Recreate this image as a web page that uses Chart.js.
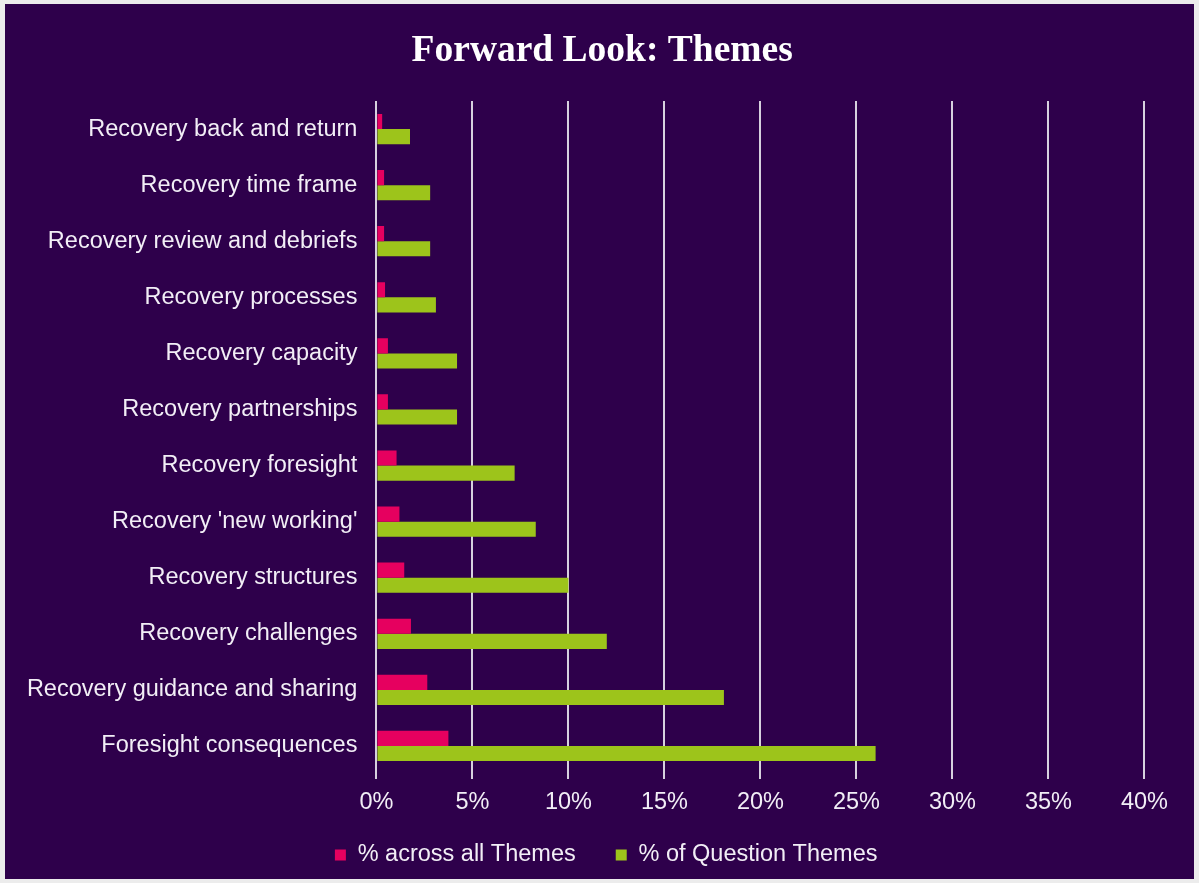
<!DOCTYPE html>
<html>
<head>
<meta charset="utf-8">
<title>Forward Look: Themes</title>
<script src="https://cdn.jsdelivr.net/npm/chart.js@4/dist/chart.umd.min.js"></script>
<style>
  html, body { margin: 0; padding: 0; background: #ececec; }
  #chart { display: block; }
</style>
</head>
<body>
<canvas id="chart" width="1199" height="883"></canvas>
<script>
// Themes, top to bottom
const categories = [
  'Recovery back and return',
  'Recovery time frame',
  'Recovery review and debriefs',
  'Recovery processes',
  'Recovery capacity',
  'Recovery partnerships',
  'Recovery foresight',
  "Recovery 'new working'",
  'Recovery structures',
  'Recovery challenges',
  'Recovery guidance and sharing',
  'Foresight consequences'
];

// Share of each theme, in percent
const acrossAllThemes = [0.3, 0.4, 0.4, 0.45, 0.6, 0.6, 1.05, 1.2, 1.45, 1.8, 2.65, 3.75];
const ofQuestionThemes = [1.75, 2.8, 2.8, 3.1, 4.2, 4.2, 7.2, 8.3, 10.0, 12.0, 18.1, 26.0];

const seriesNames = ['% across all Themes', '% of Question Themes'];
const xTickLabels = ['0%', '5%', '10%', '15%', '20%', '25%', '30%', '35%', '40%'];

const PURPLE = '#2e004b';
const PINK = '#e6005f';
const GREEN = '#9dc41b';
const TEXT = '#f2eef6';
const GRID = '#d6d0de';

// Dark panel behind the whole chart
const panel = {
  id: 'panel',
  beforeDraw(chart) {
    const ctx = chart.ctx;
    ctx.save();
    ctx.fillStyle = '#ececec';
    ctx.fillRect(0, 0, chart.width, chart.height);
    ctx.fillStyle = PURPLE;
    ctx.fillRect(5, 4, chart.width - 10, chart.height - 8);
    ctx.restore();
  }
};

// Centre the title over the page and set the legend row just under the axis labels
const LEGEND_ROW_Y = 855;
const placeBlocks = {
  id: 'placeBlocks',
  afterLayout(chart) {
    const t = chart.titleBlock;
    if (t) { t.left += 30; t.right += 30; }
    const l = chart.legend;
    if (l) {
      const o = l.options.labels;
      const size = o.font.size;
      const top = LEGEND_ROW_Y - o.padding - Math.max(size, o.boxHeight) / 2;
      l.left += 34; l.right += 34;
      l.top = top; l.bottom = top + l.height;
    }
  }
};

const labelFont = { family: "'Liberation Sans', Arial, sans-serif", size: 23.5 };

new Chart(document.getElementById('chart'), {
  type: 'bar',
  data: {
    labels: categories,
    datasets: [
      { label: seriesNames[0], data: acrossAllThemes, backgroundColor: PINK, borderWidth: 0 },
      { label: seriesNames[1], data: ofQuestionThemes, backgroundColor: GREEN, borderWidth: 0 }
    ]
  },
  options: {
    indexAxis: 'y',
    responsive: false,
    animation: false,
    layout: { padding: { left: 0, right: 54.6, top: 0, bottom: 0 } },
    datasets: { bar: { categoryPercentage: 0.54, barPercentage: 1.0 } },
    scales: {
      x: {
        min: 0,
        max: 40,
        afterFit(scale) { scale.height = 46; },
        ticks: {
          stepSize: 5,
          color: TEXT,
          font: labelFont,
          padding: 9.5,
          maxRotation: 0,
          callback: (v) => xTickLabels[Math.round(v / 5)]
        },
        grid: { color: GRID, lineWidth: 2, drawTicks: true, tickLength: 5 },
        border: { display: false }
      },
      y: {
        afterFit(scale) { scale.width = 376.4; },
        ticks: { color: TEXT, font: labelFont, padding: 19 },
        grid: { display: false, drawTicks: false },
        border: { display: false }
      }
    },
    plugins: {
      title: {
        display: true,
        text: 'Forward Look: Themes',
        color: '#ffffff',
        font: { family: "'Liberation Serif', 'Times New Roman', serif", size: 37.5, weight: 'bold' },
        padding: { top: 29, bottom: 27 }
      },
      legend: {
        position: 'bottom',
        maxHeight: 63,
        labels: {
          color: TEXT,
          font: labelFont,
          boxWidth: 11,
          boxHeight: 11,
          padding: 40
        }
      },
      tooltip: { enabled: false }
    }
  },
  plugins: [panel, placeBlocks]
});
</script>
</body>
</html>
